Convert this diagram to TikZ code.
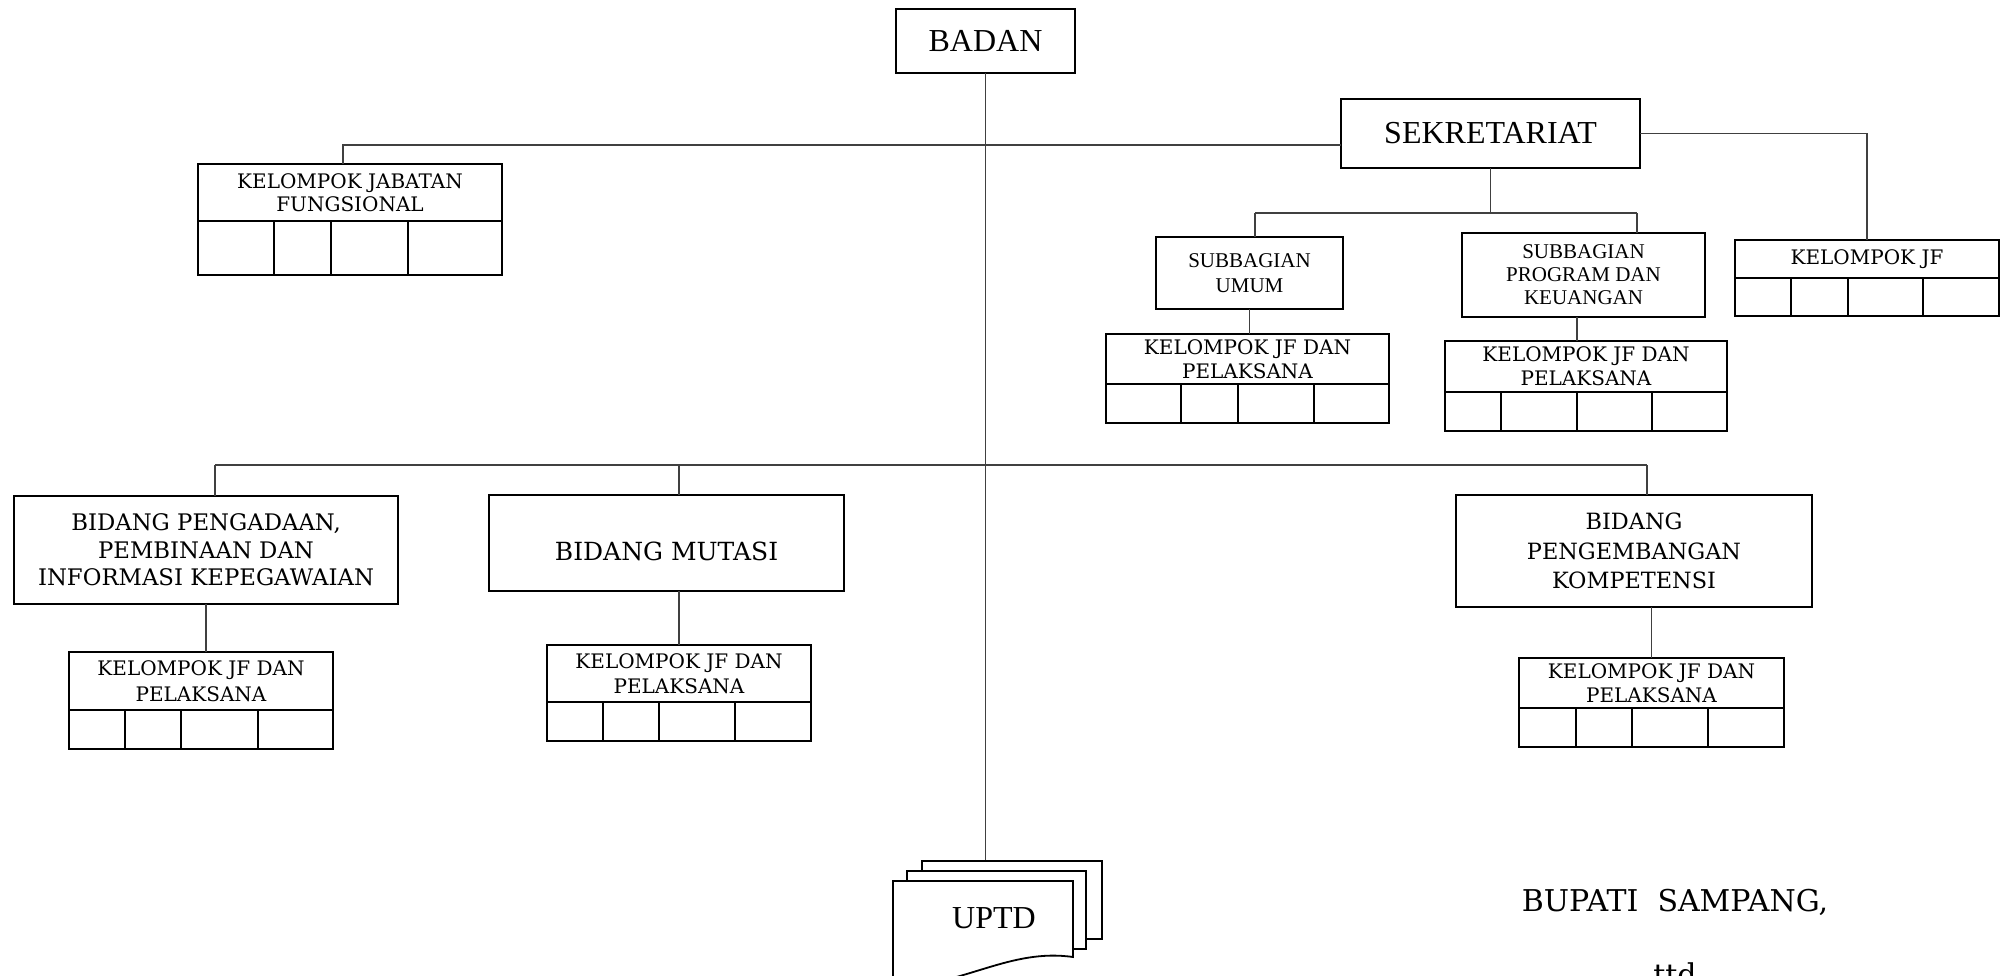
\documentclass[tikz,border=0pt]{standalone}
\usepackage{fontspec}
\setmainfont{DejaVu Serif}
\newfontfamily\timesf{Liberation Serif}
\usetikzlibrary{positioning}
\newcommand\setfs[2]{\fontsize{#1}{#2}\selectfont}

\begin{document}
\begin{tikzpicture}[x=0.5pt, y=-0.5pt,
  unitbox/.style={draw, line width=0.9pt, inner sep=1pt, outer sep=0pt, align=center},
  cellrow/.style={draw, line width=0.9pt, inner sep=0pt, outer sep=0pt},
  cellline/.style={line width=0.9pt},
  sheet/.style={draw, line width=0.9pt, fill=white, inner sep=0pt},
  conn/.style={line width=0.6pt, color=black!75}
]
\useasboundingbox (0,0) rectangle (2005,975);

% top level
\node[unitbox, minimum width=89.5pt, minimum height=32pt, font=\timesf\setfs{16}{18}] (badan) at (985.5,41) {BADAN};
\node[unitbox, minimum width=149.5pt, minimum height=34.5pt, font=\timesf\setfs{16}{18}] (sek) at (1490.5,133.5) {SEKRETARIAT};

% kelompok jabatan fungsional
\node[unitbox, minimum width=152pt, minimum height=28.5pt, font=\setfs{10}{11.5}] (kjf) at (350,192.5) {KELOMPOK JABATAN\\FUNGSIONAL};
\node[cellrow, minimum width=152pt, minimum height=27pt, below=0pt of kjf] (kjfc) {};
\foreach \x in {274,331,408} \draw[cellline] (\x,0 |- kjfc.north) -- (\x,0 |- kjfc.south);

% sekretariat
\node[unitbox, minimum width=93.5pt, minimum height=36pt, font=\timesf\setfs{10.5}{12.5}] (umum) at (1249.5,273) {SUBBAGIAN\\UMUM};
\node[unitbox, minimum width=141.5pt, minimum height=25pt, font=\setfs{10}{12}] (ku) at (1247.5,359) {KELOMPOK JF DAN\\PELAKSANA};
\node[cellrow, minimum width=141.5pt, minimum height=19.5pt, below=0pt of ku] (kuc) {};
\foreach \x in {1181,1238,1314} \draw[cellline] (\x,0 |- kuc.north) -- (\x,0 |- kuc.south);

\node[unitbox, minimum width=121.5pt, minimum height=42pt, font=\timesf\setfs{10.5}{11.5}] (prog) at (1583.5,275) {SUBBAGIAN\\PROGRAM DAN\\KEUANGAN};
\node[unitbox, minimum width=141pt, minimum height=25.5pt, font=\setfs{10}{12}] (kp) at (1586,366.5) {KELOMPOK JF DAN\\PELAKSANA};
\node[cellrow, minimum width=141pt, minimum height=19.5pt, below=0pt of kp] (kpc) {};
\foreach \x in {1501,1577,1652} \draw[cellline] (\x,0 |- kpc.north) -- (\x,0 |- kpc.south);

\node[unitbox, minimum width=132pt, minimum height=19pt, font=\setfs{10}{12}] (kjfr) at (1867,259) {KELOMPOK JF};
\node[cellrow, minimum width=132pt, minimum height=19pt, below=0pt of kjfr] (kjfrc) {};
\foreach \x in {1791,1848,1923} \draw[cellline] (\x,0 |- kjfrc.north) -- (\x,0 |- kjfrc.south);

% bidang
\node[unitbox, minimum width=192pt, minimum height=54pt, font=\setfs{11.4}{13.75}] (bpi) at (206,550) {BIDANG PENGADAAN,\\PEMBINAAN DAN\\INFORMASI KEPEGAWAIAN};
\node[unitbox, minimum width=132pt, minimum height=29pt, font=\setfs{10}{12.8}] (kpi) at (201,681) {KELOMPOK JF DAN\\PELAKSANA};
\node[cellrow, minimum width=132pt, minimum height=19.5pt, below=0pt of kpi] (kpic) {};
\foreach \x in {125,181,258} \draw[cellline] (\x,0 |- kpic.north) -- (\x,0 |- kpic.south);

\node[unitbox, minimum width=177.5pt, minimum height=48pt, text height=17pt, text depth=0pt, font=\setfs{12.5}{14}] (bm) at (666.5,543) {BIDANG MUTASI};
\node[unitbox, minimum width=132pt, minimum height=28.5pt, font=\setfs{10}{12.5}] (km) at (679,673.5) {KELOMPOK JF DAN\\PELAKSANA};
\node[cellrow, minimum width=132pt, minimum height=19.5pt, below=0pt of km] (kmc) {};
\foreach \x in {603,659,735} \draw[cellline] (\x,0 |- kmc.north) -- (\x,0 |- kmc.south);

\node[unitbox, minimum width=178pt, minimum height=56pt, font=\setfs{11.2}{14.75}] (bk) at (1634,551) {BIDANG\\PENGEMBANGAN\\KOMPETENSI};
\node[unitbox, minimum width=132.5pt, minimum height=25pt, font=\setfs{10}{12}] (kk) at (1651.5,683) {KELOMPOK JF DAN\\PELAKSANA};
\node[cellrow, minimum width=132.5pt, minimum height=19.5pt, below=0pt of kk] (kkc) {};
\foreach \x in {1576,1632,1708} \draw[cellline] (\x,0 |- kkc.north) -- (\x,0 |- kkc.south);

% uptd
\node[sheet, minimum width=90pt, minimum height=39pt] (uptd3) at (1012,900) {};
\node[sheet, minimum width=89.5pt, minimum height=39pt] (uptd2) at (996.5,910) {};
\draw[line width=0.9pt, fill=white] (893,881) -- (1073,881) -- (1073,957) .. controls (1010,948) and (965,985) .. (893,988) -- cycle;
\node[font=\timesf\setfs{16}{18}] (uptd) at (994,918) {UPTD};

% connectors
\coordinate (hub) at (985.5,145);
\coordinate (kjftop) at ([xshift=-3.5pt]kjf.north);
\draw[conn] (badan.south) -- (badan.south |- uptd3.north);
\draw[conn] (hub) -| (kjftop);
\draw[conn] (hub) -- (hub -| sek.west);
\draw[conn] (sek.east) -| (kjfr.north);
\coordinate (sbl) at (1255,213);
\coordinate (sbr) at (1637,213);
\draw[conn] (sek.south) -- (sek.south |- sbl);
\draw[conn] (sbl) -- (sbr);
\draw[conn] (sbl) -- (sbl |- umum.north);
\draw[conn] (sbr) -- (sbr |- prog.north);
\draw[conn] (umum.south) -- (umum.south |- ku.north);
\coordinate (kptop) at ([xshift=-4.5pt]kp.north);
\draw[conn] (kptop) -- (kptop |- prog.south);
\coordinate (bl) at (215,465);
\coordinate (bmid) at (679,465);
\coordinate (br) at (1647,465);
\draw[conn] (bl) -- (br);
\draw[conn] (bl) -- (bl |- bpi.north);
\draw[conn] (bmid) -- (bmid |- bm.north);
\draw[conn] (br) -- (br |- bk.north);
\draw[conn] (bpi.south) -- (bpi.south |- kpi.north);
\draw[conn] (km.north) -- (km.north |- bm.south);
\draw[conn] (kk.north) -- (kk.north |- bk.south);

% signature
\node[font=\setfs{15}{17}] (bupati) at (1675,902) {BUPATI~~SAMPANG,};
\node[anchor=north, inner sep=0pt, font=\setfs{15}{17}] (ttd) at (1675,962) {ttd};
\end{tikzpicture}
\end{document}
